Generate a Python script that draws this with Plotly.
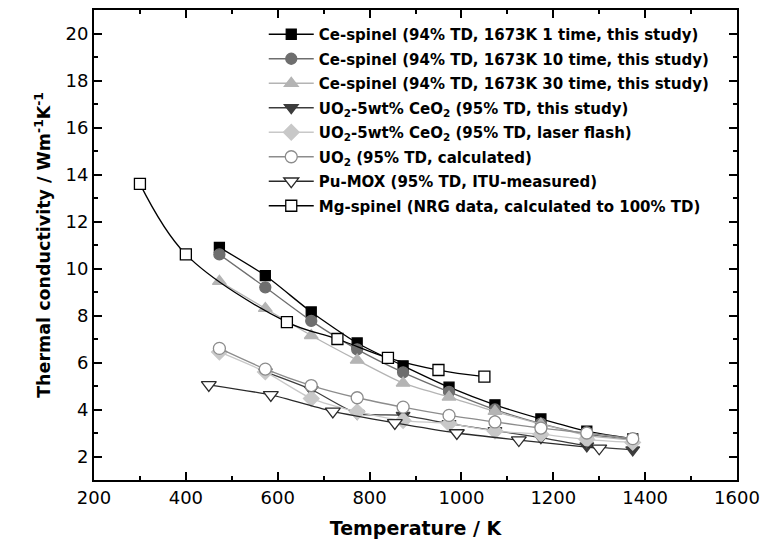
import plotly.graph_objects as go

# Temperatures (K)
T_ce = [473, 573, 673, 773, 873, 973, 1073, 1173, 1273, 1373]
T_uo2_this = [573, 673, 773, 873, 973, 1073, 1173, 1273, 1373]
T_pumox = [450, 585, 720, 855, 990, 1125, 1300]
T_mg = [300, 400, 620, 730, 840, 950, 1050]

# Thermal conductivity (W m-1 K-1)
ce_1time = [10.9, 9.7, 8.15, 6.83, 5.86, 4.95, 4.2, 3.6, 3.08, 2.75]
ce_10time = [10.6, 9.2, 7.77, 6.56, 5.58, 4.75, 4.0, 3.4, 2.95, 2.72]
ce_30time = [9.45, 8.3, 7.15, 6.1, 5.12, 4.53, 3.92, 3.38, 2.9, 2.7]
uo2_ceo2_this = [5.6, 4.85, 3.83, 3.75, 3.4, 3.1, 2.8, 2.45, 2.28]
uo2_ceo2_laser = [6.45, 5.6, 4.47, 3.9, 3.53, 3.4, 3.08, 2.95, 2.72, 2.6]
uo2_calc = [6.6, 5.72, 5.02, 4.5, 4.1, 3.75, 3.47, 3.21, 3.0, 2.76]
pu_mox = [5.05, 4.62, 3.92, 3.43, 3.0, 2.7, 2.35]
mg_spinel = [13.6, 10.6, 7.72, 7.0, 6.2, 5.68, 5.4]

names = [
    "Ce-spinel (94% TD, 1673K 1 time, this study)",
    "Ce-spinel (94% TD, 1673K 10 time, this study)",
    "Ce-spinel (94% TD, 1673K 30 time, this study)",
    "UO<sub>2</sub>-5wt% CeO<sub>2</sub> (95% TD, this study)",
    "UO<sub>2</sub>-5wt% CeO<sub>2</sub> (95% TD, laser flash)",
    "UO<sub>2</sub> (95% TD, calculated)",
    "Pu-MOX (95% TD, ITU-measured)",
    "Mg-spinel (NRG data, calculated to 100% TD)",
]

FONT = "DejaVu Sans, Arial, sans-serif"

fig = go.Figure()

def add(i, x, y, lcolor, symbol, size, mfill, medge, smooth=0.6):
    fig.add_trace(go.Scatter(
        x=x, y=y, name=names[i], legendgroup=f"g{i}", mode="lines+markers",
        line=dict(color=lcolor, width=1.3, shape="spline", smoothing=smooth),
        marker=dict(symbol=symbol, size=size, color=mfill,
                    line=dict(color=medge, width=1.3)),
    ))

add(0, T_ce, ce_1time, "#000000", "square", 10, "#000000", "#000000")
add(1, T_ce, ce_10time, "#6e6e6e", "circle", 11, "#6e6e6e", "#6e6e6e")
add(2, T_ce, ce_30time, "#b4b4b4", "triangle-up", 12, "#b4b4b4", "#b4b4b4")
add(3, T_uo2_this, uo2_ceo2_this, "#3c3c3c", "triangle-down", 12, "#3c3c3c", "#3c3c3c")
add(4, T_ce, uo2_ceo2_laser, "#c8c8c8", "diamond", 12, "#c8c8c8", "#c8c8c8")
add(5, T_ce, uo2_calc, "#8c8c8c", "circle", 12, "#ffffff", "#8c8c8c")
add(6, T_pumox, pu_mox, "#2a2a2a", "triangle-down", 13, "#ffffff", "#2a2a2a")
add(7, T_mg, mg_spinel, "#000000", "square", 11, "#ffffff", "#000000", smooth=1.0)

axis_common = dict(
    showline=True, linecolor="black", linewidth=2, mirror="allticks",
    ticks="inside", ticklen=8, tickwidth=1.5, tickcolor="black",
    showgrid=False, zeroline=False,
    tickfont=dict(family=FONT, size=18, color="black"),
)

fig.update_xaxes(
    range=[200, 1600], dtick=200, tick0=200,
    minor=dict(dtick=100, ticks="inside", ticklen=4, tickwidth=1.5, tickcolor="black"),
    title=dict(text="Temperature / K", font=dict(family=FONT, size=19, color="black", weight="bold"), standoff=15),
    **axis_common,
)
fig.update_yaxes(
    range=[1, 21], dtick=2, tick0=0,
    minor=dict(dtick=1, ticks="inside", ticklen=4, tickwidth=1.5, tickcolor="black"),
    title=dict(text="Thermal conductivity / Wm<sup>-1</sup>K<sup>-1</sup>",
               font=dict(family=FONT, size=17.5, color="black", weight="bold"), standoff=10),
    **axis_common,
)

fig.update_layout(
    width=768, height=548,
    margin=dict(l=94, r=30, t=8, b=68),
    paper_bgcolor="white", plot_bgcolor="white",
    showlegend=True,
    legend=dict(
        x=0.264, y=0.983, xanchor="left", yanchor="top",
        bgcolor="rgba(0,0,0,0)", borderwidth=0,
        font=dict(family=FONT, size=15, color="black", weight="bold"),
        itemwidth=45, tracegroupgap=2,
    ),
)

fig.write_html(
    "out.html",
    config={"displayModeBar": False},
    post_script="document.body.style.margin='0';document.body.style.overflow='hidden';",
)
